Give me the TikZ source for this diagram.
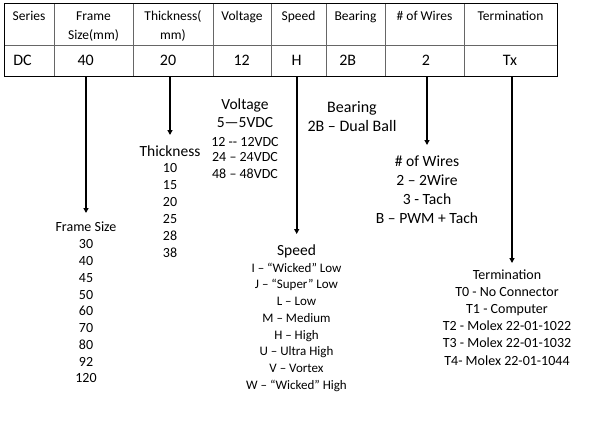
\documentclass[tikz,border=0pt]{standalone}
\usepackage{fontspec}
\setmainfont{Carlito}
\usetikzlibrary{arrows.meta}
\begin{document}
\begin{tikzpicture}[x=1pt,y=-1pt,
  hdr/.style={font=\fontsize{13.5}{16}\selectfont, anchor=base, inner sep=0pt},
  val/.style={font=\fontsize{16}{19}\selectfont, anchor=base, inner sep=0pt},
  lbl/.style={anchor=base, inner sep=0pt},
  arr/.style={line width=1.8pt, -{Triangle[length=5pt,width=5pt]}},
  inner line/.style={draw=black!60, line width=0.8pt},
  outer line/.style={draw=black, line width=1pt}]
\useasboundingbox (0,0) rectangle (596,425);
\fill[white] (0,0) rectangle (596,425);

% table grid
\foreach \x in {54,133,213,271,326,385,464}
  \draw[inner line] (\x,4) -- (\x,77);
\draw[inner line] (4,45) -- (557,45);
\draw[outer line] (4,4) rectangle (557,77);

% header row
\node[hdr] (hSeries) at (29,20.5) {Series};
\node[hdr] (hFrameA) at (93.5,20.5) {Frame};
\node[hdr] (hFrameB) at (93.5,39.5) {Size(mm)};
\node[hdr] (hThickA) at (173,20.5) {Thickness(};
\node[hdr] (hThickB) at (173,39.5) {mm)};
\node[hdr] (hVolt) at (242,20.5) {Voltage};
\node[hdr] (hSpeed) at (298.5,20.5) {Speed};
\node[hdr] (hBear) at (355.5,20.5) {Bearing};
\node[hdr] (hWire) at (424.5,20.5) {\# of Wires};
\node[hdr] (hTerm) at (510.5,20.5) {Termination};

% value row
\node[val] (vSeries) at (22.5,65.3) {DC};
\node[val] (vFrame) at (85.7,65.3) {40};
\node[val] (vThick) at (168,65.3) {20};
\node[val] (vVolt) at (241.7,65.3) {12};
\node[val] (vSpeed) at (296.5,65.3) {H};
\node[val] (vBear) at (347.7,65.3) {2B};
\node[val] (vWire) at (426,65.3) {2};
\node[val] (vTerm) at (510,65.3) {Tx};

% arrow coordinates
\coordinate (fsTop) at (86,77);    \coordinate (fsEnd) at (86,213);
\coordinate (thTop) at (170,77);   \coordinate (thEnd) at (170,135);
\coordinate (spTop) at (296.7,77); \coordinate (spEnd) at (296.7,234);
\coordinate (wiTop) at (427,77);   \coordinate (wiEnd) at (427,145);
\coordinate (teTop) at (512,77);   \coordinate (teEnd) at (512,263);
\draw[arr] (fsTop) -- (fsEnd);
\draw[arr] (thTop) -- (thEnd);
\draw[arr] (spTop) -- (spEnd);
\draw[arr] (wiTop) -- (wiEnd);
\draw[arr] (teTop) -- (teEnd);

% Frame size block
\node[lbl, font=\fontsize{14}{16}\selectfont] (fsTitle) at (86,231.9) {Frame Size};
\foreach \t [count=\i] in {30,40,45,50,60,70,80,92,120}
  \node[lbl, font=\fontsize{14}{16}\selectfont] (fs\i) at (86,{248.9+16.75*(\i-1)}) {\t};

% Thickness block
\node[lbl, font=\fontsize{15.5}{18}\selectfont] (thTitle) at (170,156.1) {Thickness};
\foreach \t [count=\i] in {10,15,20,25,28,38}
  \node[lbl, font=\fontsize{14}{16}\selectfont] (th\i) at (170,{172.9+16.9*(\i-1)}) {\t};

% Voltage block
\node[lbl, font=\fontsize{15.5}{18}\selectfont] (voTitle) at (245,109.1) {Voltage};
\node[lbl, font=\fontsize{15.5}{18}\selectfont] (vo1) at (245,127.8) {5—5VDC};
\node[lbl, font=\fontsize{14}{16}\selectfont] (vo2) at (245,146.3) {12 -{}- 12VDC};
\node[lbl, font=\fontsize{14}{16}\selectfont] (vo3) at (245,161.9) {24 – 24VDC};
\node[lbl, font=\fontsize{14}{16}\selectfont] (vo4) at (245,178.9) {48 – 48VDC};

% Bearing block
\node[lbl, font=\fontsize{16}{19}\selectfont] (beTitle) at (352,112.3) {Bearing};
\node[lbl, font=\fontsize{16}{19}\selectfont] (be1) at (352,131) {2B – Dual Ball};

% Wires block
\node[lbl, font=\fontsize{15.6}{19}\selectfont] (wiTitle) at (427,166.1) {\# of Wires};
\node[lbl, font=\fontsize{15.6}{19}\selectfont] (wi1) at (427,185.1) {2 – 2Wire};
\node[lbl, font=\fontsize{15.6}{19}\selectfont] (wi2) at (427,204.1) {3 - Tach};
\node[lbl, font=\fontsize{15.6}{19}\selectfont] (wi3) at (427,223.4) {B – PWM + Tach};

% Speed block
\node[lbl, font=\fontsize{15.5}{18}\selectfont] (spTitle) at (296.5,255.1) {Speed};
\foreach \t [count=\i] in {I – “Wicked” Low, J – “Super” Low, L – Low, M – Medium, H – High, U – Ultra High, V – Vortex, W – “Wicked” High}
  \node[lbl, font=\fontsize{13}{16}\selectfont] (sp\i) at (296.5,{272+16.76*(\i-1)}) {\t};

% Termination block
\node[lbl, font=\fontsize{14}{16}\selectfont] (teTitle) at (507,279.6) {Termination};
\foreach \t/\y [count=\i] in {T0 - No Connector/296.9, T1 - Computer/313.9, T2 - Molex 22-01-1022/330.9, T3 - Molex 22-01-1032/347.3, T4- Molex 22-01-1044/365.9}
  \node[lbl, font=\fontsize{14}{16}\selectfont] (te\i) at (507,\y) {\t};
\end{tikzpicture}
\end{document}
